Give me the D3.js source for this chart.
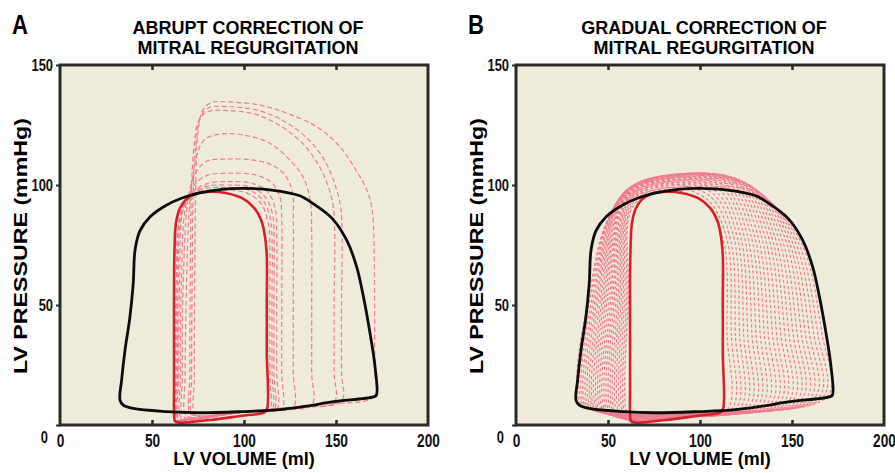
<!DOCTYPE html>
<html>
<head>
<meta charset="utf-8">
<script src="https://cdn.jsdelivr.net/npm/d3@7"></script>
<style>
  body { margin: 0; background: #fff; }
  svg { display: block; }
  .tick text { font-family: "Liberation Sans", Arial, sans-serif; font-weight: bold; fill: #111; }
</style>
</head>
<body>
<div id="chart"></div>
<script>
// axis ticks
const xTicks = [0, 50, 100, 150, 200];
const yTicks = [0, 50, 100, 150];

// [LV volume (ml), LV pressure (mmHg)]
// loop with mitral regurgitation (black)
const mrLoop = [
  [32.6,10.4],[34.4,8.3],[39.8,6.9],[58,5.6],[76,5.1],[99.6,5.6],[117.8,6.3],[134,7.9],[148.6,9.7],
  [170.3,11.7],[172,12.5],[171.2,24.3],[168.5,38.2],[164.9,53.5],[161.2,66],[155.8,77],[148,86],
  [138,92],[130,95.6],[115,97.9],[100,98.6],[88,98.2],[76,96.7],[66,94.5],[58,91.7],[49,86.8],
  [43.5,81],[40.8,73],[39.8,59],[38,45],[35.3,31],[33.5,18.8]
];

// loop after correction (red)
const correctedLoop = [
  [62.5,1.6],[65,1],[81.5,2.1],[97.8,3.75],[110.5,5.1],[112.4,6.3],[112.4,30],[112.4,52],[112.4,70],
  [111.5,78],[109.5,85],[105.5,90.5],[99,94.5],[90,96.7],[82,97.2],[74,96.5],[68.5,94],[65,90],
  [63,84],[62.3,75],[62,60],[62,38],[62,15],[62,5]
];

// transition beats, abrupt correction (panel A)
const abruptLoops = [
  [[73,5],[76,3.8],[100,5.6],[140,8.5],[171,12],[171,22],[171,50],[170.5,80],[169.4,91],[166.7,98],[161,106],[152,116],[139.5,124.3],[123,130],[108.7,133.3],[92,134.6],[82,134.3],[77.5,131],[75,122],[73.8,100],[73.2,60],[73,20]],
  [[71.5,5],[74.5,3.8],[100,5.6],[130,7.5],[153,10],[153,22],[153,50],[153.3,80],[152.5,91],[149.5,100],[144,110],[135,119],[122,126.5],[108,131],[92,132.6],[81,132.2],[76.5,128.5],[74,118],[72.5,100],[71.8,60],[71.5,20]],
  [[70.5,5],[73.5,3.8],[100,5.6],[128,7.4],[149,9.5],[149,22],[149,50],[149.3,80],[148.5,91],[145.5,100],[140,109],[131,118],[119,125],[106,129.5],[92,131],[80.5,130.6],[75.5,127],[73,117],[71.5,100],[70.8,60],[70.5,20]],
  [[68,4.5],[71,3.2],[100,5.6],[120,6.6],[136.8,8.2],[136.8,22],[136.8,50],[136.8,80],[136,93.7],[132,103.5],[125,110.4],[114,117.4],[100,120.8],[85,121],[78,118.5],[74,111],[70.5,92],[68.5,50],[68,20]],
  [[66.5,4],[69.5,2.8],[100,5.6],[115,6.2],[126.8,7.2],[126.8,22],[126.8,50],[126.8,85],[126.3,97],[122,104.5],[114,108.7],[104,110.5],[90,110.8],[80,110],[74.5,106],[70,96],[67,60],[66.5,20]],
  [[65.5,3.5],[68.5,2.5],[100,5.6],[112,6],[120.5,6.6],[120.5,22],[120.5,50],[120.5,85],[119.5,95],[115,101],[106,104.2],[92,104.9],[80,104],[73,100],[68.5,92],[66,60],[65.5,20]],
  [[64.5,3],[67.5,2.2],[100,5.6],[110,6],[117.8,6.4],[117.8,22],[117.8,50],[117.8,80],[117,90],[113,97],[105,100.6],[92,101.4],[80,100.6],[72,97],[67,90],[65,60],[64.5,20]],
  [[64,2.8],[67,2],[100,5.5],[110,6],[116.3,6.3],[116.3,22],[116.3,50],[116.3,80],[115.5,88],[111.5,95],[104,99],[90,100],[78,99.2],[70,95],[66,88],[64.2,60],[64,20]],
  [[63.5,2.5],[66.5,1.8],[100,5.4],[110,5.9],[115.2,6.2],[115.2,22],[115.2,50],[115.2,78],[114.3,86],[110.5,93.5],[103,97.8],[88,99],[76,98],[69,94],[65.3,87],[63.7,60],[63.5,20]],
  [[63,2.2],[66,1.6],[100,5.3],[110,5.9],[114,6.1],[114,22],[114,50],[114,76],[113.2,84],[109.5,92],[101,96.8],[86,98],[75,97],[68.5,93],[64.8,86],[63.2,60],[63,20]]
];

// transition beats, gradual correction (panel B)
const gradualLoops = [
  [[34.2,10.2],[41.1,6.3],[99.6,5.5],[169.6,12.3],[166.3,38],[155.2,75.7],[136.5,93.2],[99.2,99.6],[55.4,91.1],[39.9,55]],
  [[35.4,9.8],[42.2,6.1],[99.2,5.4],[167.2,12.0],[164.0,38],[153.3,76.3],[135.0,94.6],[98.4,100.5],[55.7,92.1],[40.8,55]],
  [[36.5,9.5],[43.2,5.8],[98.8,5.3],[164.9,11.8],[161.8,38],[151.5,76.8],[133.6,95.8],[97.6,101.3],[56.1,93.0],[41.8,55]],
  [[37.7,9.1],[44.3,5.6],[98.4,5.2],[162.5,11.5],[159.5,38],[149.6,77.3],[132.1,97.0],[96.8,102.1],[56.4,93.8],[42.7,55]],
  [[38.9,8.8],[45.4,5.4],[98.0,5.1],[160.1,11.3],[157.3,38],[147.8,77.8],[130.6,98.0],[96.0,102.7],[56.8,94.5],[43.6,55]],
  [[40.1,8.4],[46.5,5.2],[97.6,5.0],[157.7,11.0],[155.1,38],[146.0,78.2],[129.1,98.8],[95.2,103.3],[57.2,95.1],[44.5,55]],
  [[41.3,8.1],[47.6,5.0],[97.2,4.9],[155.3,10.8],[152.8,38],[144.1,78.5],[127.6,99.6],[94.4,103.7],[57.5,95.6],[45.4,55]],
  [[42.4,7.7],[48.6,4.7],[96.8,4.8],[153.0,10.5],[150.6,38],[142.3,78.8],[126.2,100.2],[93.6,104.1],[57.9,96.1],[46.4,55]],
  [[43.6,7.4],[49.7,4.5],[96.4,4.7],[150.6,10.3],[148.3,38],[140.4,79.1],[124.7,100.7],[92.8,104.4],[58.2,96.5],[47.3,55]],
  [[44.8,7.0],[50.8,4.3],[96.0,4.6],[148.2,10.0],[146.1,38],[138.6,79.2],[123.2,101.0],[92.0,104.6],[58.6,96.7],[48.2,55]],
  [[46.0,6.7],[51.9,4.1],[95.6,4.5],[145.8,9.8],[143.9,38],[136.8,79.4],[121.7,101.3],[91.2,104.7],[59.0,96.9],[49.1,55]],
  [[47.2,6.3],[53.0,3.9],[95.2,4.4],[143.4,9.5],[141.6,38],[134.9,79.5],[120.2,101.3],[90.4,104.7],[59.3,97.0],[50.0,55]],
  [[48.3,6.0],[54.0,3.6],[94.8,4.2],[141.1,9.3],[139.4,38],[133.1,79.5],[118.8,101.3],[89.6,104.7],[59.7,97.0],[51.0,55]],
  [[49.5,5.6],[55.1,3.4],[94.4,4.1],[138.7,9.0],[137.1,38],[131.2,79.5],[117.3,101.2],[88.8,104.5],[60.0,96.9],[51.9,55]],
  [[50.7,5.3],[56.2,3.2],[94.0,4.0],[136.3,8.8],[134.9,38],[129.4,79.4],[115.8,100.9],[88.0,104.2],[60.4,96.7],[52.8,55]],
  [[51.9,4.9],[57.3,3.0],[93.6,3.9],[133.9,8.5],[132.7,38],[127.6,79.3],[114.3,100.5],[87.2,103.9],[60.8,96.5],[53.7,55]],
  [[53.1,4.6],[58.4,2.8],[93.2,3.8],[131.5,8.3],[130.4,38],[125.7,79.2],[112.8,99.9],[86.4,103.5],[61.1,96.1],[54.6,55]],
  [[54.2,4.2],[59.4,2.5],[92.8,3.7],[129.2,8.0],[128.2,38],[123.9,79.0],[111.4,99.3],[85.6,102.9],[61.5,95.6],[55.6,55]],
  [[55.4,3.9],[60.5,2.3],[92.4,3.6],[126.8,7.8],[125.9,38],[122.0,78.7],[109.9,98.5],[84.8,102.3],[61.8,95.1],[56.5,55]],
  [[56.6,3.5],[61.6,2.1],[92.0,3.5],[124.4,7.5],[123.7,38],[120.2,78.4],[108.4,97.5],[84.0,101.6],[62.2,94.5],[57.4,55]],
  [[57.8,3.2],[62.7,1.9],[91.6,3.4],[122.0,7.3],[121.5,38],[118.4,78.0],[106.9,96.5],[83.2,100.9],[62.6,93.8],[58.3,55]],
  [[59.0,2.8],[63.8,1.7],[91.2,3.3],[119.6,7.0],[119.2,38],[116.5,77.6],[105.4,95.3],[82.4,100.0],[62.9,93.0],[59.2,55]],
  [[60.1,2.5],[64.8,1.4],[90.8,3.2],[117.3,6.8],[117.0,38],[114.7,77.1],[103.9,94.0],[81.6,99.0],[63.3,92.1],[60.2,55]],
  [[61.3,2.1],[65.9,1.2],[90.4,3.1],[114.9,6.5],[114.7,38],[112.8,76.6],[102.4,92.6],[80.8,98.0],[63.6,91.1],[61.1,55]]
];

const panels = [
  { letter: "A", title: ["ABRUPT CORRECTION OF", "MITRAL REGURGITATION"], left: 60, loops: abruptLoops, dash: "5,2.8" },
  { letter: "B", title: ["GRADUAL CORRECTION OF", "MITRAL REGURGITATION"], left: 516, loops: gradualLoops, dash: "3.2,2.2" }
];

const width = 895, height = 473;
const plotW = 368, plotTop = 65, plotBottom = 425;
const squeeze = 0.76; // narrow the tick digits like the condensed face of the original

const svg = d3.select("#chart").append("svg")
  .attr("width", width)
  .attr("height", height);

const y = d3.scaleLinear().domain([0, 150]).range([plotBottom, plotTop]);

panels.forEach(p => {
  const x = d3.scaleLinear().domain([0, 200]).range([p.left, p.left + plotW]);
  const g = svg.append("g");
  const line = d3.line()
    .x(d => x(d[0]))
    .y(d => y(d[1]))
    .curve(d3.curveCatmullRomClosed.alpha(0.5));

  // background
  g.append("rect")
    .attr("x", p.left).attr("y", plotTop)
    .attr("width", plotW).attr("height", plotBottom - plotTop)
    .attr("fill", "#efebdb");

  // transition beats
  g.selectAll("path.beat")
    .data(p.loops)
    .enter().append("path")
    .attr("class", "beat")
    .attr("d", line)
    .attr("fill", "none")
    .attr("stroke", "#ee7d8e")
    .attr("stroke-width", 1.2)
    .attr("stroke-dasharray", p.dash);

  g.append("path")
    .attr("d", line(correctedLoop))
    .attr("fill", "none")
    .attr("stroke", "#d3222a")
    .attr("stroke-width", 2.6);

  g.append("path")
    .attr("d", line(mrLoop))
    .attr("fill", "none")
    .attr("stroke", "#0d0d0d")
    .attr("stroke-width", 2.8);

  // frame
  g.append("rect")
    .attr("x", p.left).attr("y", plotTop)
    .attr("width", plotW).attr("height", plotBottom - plotTop)
    .attr("fill", "none")
    .attr("stroke", "#2a2a2a")
    .attr("stroke-width", 3);

  // bottom axis: labels + inward ticks
  const xb = g.append("g")
    .attr("transform", `translate(0,${plotBottom})`)
    .call(d3.axisBottom(x).tickValues(xTicks).tickSizeInner(-5).tickSizeOuter(0).tickPadding(9));
  xb.select(".domain").remove();
  xb.selectAll(".tick line").attr("stroke", "#2a2a2a").attr("stroke-width", 2.5)
    .filter(d => d === 0 || d === 200).remove();
  xb.selectAll(".tick text").style("font-size", "18px")
    .attr("transform", `scale(${squeeze},1)`);

  // top axis: inward ticks only
  const xt = g.append("g")
    .attr("transform", `translate(0,${plotTop})`)
    .call(d3.axisTop(x).tickValues([50, 100, 150]).tickSizeInner(-5).tickSizeOuter(0).tickFormat(""));
  xt.select(".domain").remove();
  xt.selectAll(".tick line").attr("stroke", "#2a2a2a").attr("stroke-width", 2.5);

  // left axis
  const yl = g.append("g")
    .attr("transform", `translate(${p.left},0)`)
    .call(d3.axisLeft(y).tickValues(yTicks).tickSizeInner(4).tickSizeOuter(0).tickPadding(3));
  yl.select(".domain").remove();
  yl.selectAll(".tick line").attr("stroke", "#2a2a2a").attr("stroke-width", 2);
  yl.selectAll(".tick text").style("font-size", "17px")
    .attr("x", d => (d === 0 ? -12 : -7) / squeeze)
    .attr("transform", `scale(${squeeze},1)`)
    .attr("dy", d => d === 0 ? "1.05em" : "0.34em");

  // axis titles
  g.append("text")
    .attr("x", p.left + plotW / 2).attr("y", 465)
    .attr("text-anchor", "middle")
    .style("font-family", "'Liberation Sans', Arial, sans-serif")
    .style("font-weight", "bold").style("font-size", "18px")
    .text("LV VOLUME (ml)");

  g.append("text")
    .attr("transform", `translate(${p.left - 33},${(plotTop + plotBottom) / 2 + 1}) rotate(-90)`)
    .attr("text-anchor", "middle")
    .attr("textLength", 256)
    .attr("lengthAdjust", "spacingAndGlyphs")
    .style("font-family", "'Liberation Sans', Arial, sans-serif")
    .style("font-weight", "bold").style("font-size", "19px")
    .text("LV PRESSURE (mmHg)");

  // panel title
  p.title.forEach((t, i) => {
    g.append("text")
      .attr("x", p.left + plotW / 2 + 4).attr("y", 34 + i * 20)
      .attr("text-anchor", "middle")
      .style("font-family", "'Liberation Sans', Arial, sans-serif")
      .style("font-weight", "bold").style("font-size", "18px")
      .text(t);
  });

  g.append("text")
    .attr("transform", `translate(${p.left - 48},34) scale(0.82,1)`)
    .style("font-family", "'Liberation Sans', Arial, sans-serif")
    .style("font-weight", "bold").style("font-size", "27px")
    .text(p.letter);
});
</script>
</body>
</html>
